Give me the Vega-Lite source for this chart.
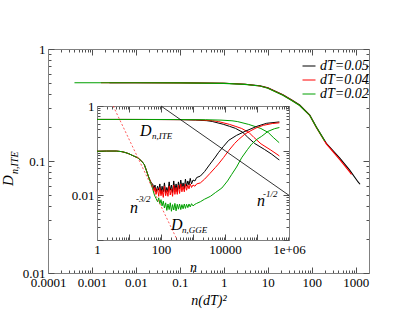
{
"$schema": "https://vega.github.io/schema/vega-lite/v6.json",
"width": 321, "height": 224,
"autosize": {"type": "none"},
"padding": {"left": 48, "top": 49, "right": 46, "bottom": 48},
"background": "white",
"config": {
  "view": {"stroke": null},
  "font": "Liberation Serif",
  "axis": {"domainColor": "#808080", "tickColor": "#505050", "labelFont": "Liberation Serif", "labelColor": "#000000", "labelFontSize": 13, "titleFont": "Liberation Serif", "titleFontStyle": "italic", "titleFontWeight": "normal", "titleColor": "#000000", "grid": false, "labelOverlap": false, "labelFlush": false, "labelBound": false, "tickWidth": 1, "domainWidth": 1},
  "text": {"font": "Liberation Serif", "fontStyle": "italic", "color": "#000000"}
},
"datasets": {
  "main": [
    {"s":"dT=0.05","x":0.0025,"D":0.5},{"s":"dT=0.05","x":0.01,"D":0.5},{"s":"dT=0.05","x":0.1,"D":0.499},{"s":"dT=0.05","x":1,"D":0.495},{"s":"dT=0.05","x":3,"D":0.485},{"s":"dT=0.05","x":6.6,"D":0.47},{"s":"dT=0.05","x":10,"D":0.45},{"s":"dT=0.05","x":22,"D":0.39},{"s":"dT=0.05","x":35,"D":0.35},{"s":"dT=0.05","x":53,"D":0.316},{"s":"dT=0.05","x":90,"D":0.257},{"s":"dT=0.05","x":128,"D":0.2},{"s":"dT=0.05","x":214,"D":0.144},{"s":"dT=0.05","x":433,"D":0.106},{"s":"dT=0.05","x":727,"D":0.083},{"s":"dT=0.05","x":1130,"D":0.065},{"s":"dT=0.05","x":1250,"D":0.062},
    {"s":"dT=0.04","x":0.0016,"D":0.5},{"s":"dT=0.04","x":0.01,"D":0.5},{"s":"dT=0.04","x":0.1,"D":0.498},{"s":"dT=0.04","x":1,"D":0.494},{"s":"dT=0.04","x":3,"D":0.484},{"s":"dT=0.04","x":6.6,"D":0.468},{"s":"dT=0.04","x":10,"D":0.448},{"s":"dT=0.04","x":22,"D":0.388},{"s":"dT=0.04","x":35,"D":0.348},{"s":"dT=0.04","x":53,"D":0.314},{"s":"dT=0.04","x":90,"D":0.255},{"s":"dT=0.04","x":128,"D":0.198},{"s":"dT=0.04","x":214,"D":0.142},{"s":"dT=0.04","x":433,"D":0.103},{"s":"dT=0.04","x":727,"D":0.08},{"s":"dT=0.04","x":800,"D":0.076},
    {"s":"dT=0.02","x":0.0004,"D":0.5},{"s":"dT=0.02","x":0.001,"D":0.5},{"s":"dT=0.02","x":0.01,"D":0.5},{"s":"dT=0.02","x":0.1,"D":0.498},{"s":"dT=0.02","x":1,"D":0.493},{"s":"dT=0.02","x":3,"D":0.483},{"s":"dT=0.02","x":6.6,"D":0.467},{"s":"dT=0.02","x":10,"D":0.447},{"s":"dT=0.02","x":22,"D":0.387},{"s":"dT=0.02","x":35,"D":0.347},{"s":"dT=0.02","x":53,"D":0.313},{"s":"dT=0.02","x":90,"D":0.255},{"s":"dT=0.02","x":128,"D":0.199},{"s":"dT=0.02","x":197,"D":0.151}
  ],
  "inset": [
    {"s":"dT=0.05","k":"ITE","n":1,"D":0.5},{"s":"dT=0.05","k":"ITE","n":4,"D":0.5},{"s":"dT=0.05","k":"ITE","n":40,"D":0.499},{"s":"dT=0.05","k":"ITE","n":400,"D":0.495},{"s":"dT=0.05","k":"ITE","n":1200,"D":0.485},{"s":"dT=0.05","k":"ITE","n":2640,"D":0.47},{"s":"dT=0.05","k":"ITE","n":4000,"D":0.45},{"s":"dT=0.05","k":"ITE","n":8800,"D":0.39},{"s":"dT=0.05","k":"ITE","n":14000,"D":0.35},{"s":"dT=0.05","k":"ITE","n":21200,"D":0.316},{"s":"dT=0.05","k":"ITE","n":36000,"D":0.257},{"s":"dT=0.05","k":"ITE","n":51200,"D":0.2},{"s":"dT=0.05","k":"ITE","n":85600,"D":0.144},{"s":"dT=0.05","k":"ITE","n":173200,"D":0.106},{"s":"dT=0.05","k":"ITE","n":290800,"D":0.083},{"s":"dT=0.05","k":"ITE","n":452000,"D":0.065},{"s":"dT=0.05","k":"ITE","n":500000,"D":0.062},
    {"s":"dT=0.04","k":"ITE","n":1,"D":0.5},{"s":"dT=0.04","k":"ITE","n":6.25,"D":0.5},{"s":"dT=0.04","k":"ITE","n":62.5,"D":0.498},{"s":"dT=0.04","k":"ITE","n":625,"D":0.494},{"s":"dT=0.04","k":"ITE","n":1875,"D":0.484},{"s":"dT=0.04","k":"ITE","n":4125,"D":0.468},{"s":"dT=0.04","k":"ITE","n":6250,"D":0.448},{"s":"dT=0.04","k":"ITE","n":13750,"D":0.388},{"s":"dT=0.04","k":"ITE","n":21875,"D":0.348},{"s":"dT=0.04","k":"ITE","n":33125,"D":0.314},{"s":"dT=0.04","k":"ITE","n":56250,"D":0.255},{"s":"dT=0.04","k":"ITE","n":80000,"D":0.198},{"s":"dT=0.04","k":"ITE","n":133750,"D":0.142},{"s":"dT=0.04","k":"ITE","n":270625,"D":0.103},{"s":"dT=0.04","k":"ITE","n":454375,"D":0.08},{"s":"dT=0.04","k":"ITE","n":500000,"D":0.076},
    {"s":"dT=0.02","k":"ITE","n":1,"D":0.5},{"s":"dT=0.02","k":"ITE","n":25,"D":0.5},{"s":"dT=0.02","k":"ITE","n":250,"D":0.498},{"s":"dT=0.02","k":"ITE","n":2500,"D":0.493},{"s":"dT=0.02","k":"ITE","n":7500,"D":0.483},{"s":"dT=0.02","k":"ITE","n":16500,"D":0.467},{"s":"dT=0.02","k":"ITE","n":25000,"D":0.447},{"s":"dT=0.02","k":"ITE","n":55000,"D":0.387},{"s":"dT=0.02","k":"ITE","n":87500,"D":0.347},{"s":"dT=0.02","k":"ITE","n":132500,"D":0.313},{"s":"dT=0.02","k":"ITE","n":225000,"D":0.255},{"s":"dT=0.02","k":"ITE","n":320000,"D":0.199},{"s":"dT=0.02","k":"ITE","n":492500,"D":0.151},
    {"s":"dT=0.05","k":"GGE","n":1,"D":0.097},{"s":"dT=0.05","k":"GGE","n":2,"D":0.098},{"s":"dT=0.05","k":"GGE","n":4,"D":0.098},{"s":"dT=0.05","k":"GGE","n":6,"D":0.095},{"s":"dT=0.05","k":"GGE","n":8,"D":0.09},{"s":"dT=0.05","k":"GGE","n":10,"D":0.085},{"s":"dT=0.05","k":"GGE","n":14,"D":0.076},{"s":"dT=0.05","k":"GGE","n":19,"D":0.069},{"s":"dT=0.05","k":"GGE","n":25,"D":0.058},{"s":"dT=0.05","k":"GGE","n":30,"D":0.049},{"s":"dT=0.05","k":"GGE","n":35,"D":0.036},{"s":"dT=0.05","k":"GGE","n":40,"D":0.027},{"s":"dT=0.05","k":"GGE","n":45,"D":0.022},{"s":"dT=0.05","k":"GGE","n":50,"D":0.019},
    {"s":"dT=0.05","k":"GGE","n":55,"D":0.018},{"s":"dT=0.05","k":"GGE","n":60,"D":0.014},{"s":"dT=0.05","k":"GGE","n":65,"D":0.017},{"s":"dT=0.05","k":"GGE","n":70,"D":0.012},{"s":"dT=0.05","k":"GGE","n":78,"D":0.016},{"s":"dT=0.05","k":"GGE","n":85,"D":0.013},{"s":"dT=0.05","k":"GGE","n":92,"D":0.018},{"s":"dT=0.05","k":"GGE","n":100,"D":0.011},{"s":"dT=0.05","k":"GGE","n":108,"D":0.016},{"s":"dT=0.05","k":"GGE","n":118,"D":0.012},{"s":"dT=0.05","k":"GGE","n":128,"D":0.019},{"s":"dT=0.05","k":"GGE","n":140,"D":0.0115},{"s":"dT=0.05","k":"GGE","n":152,"D":0.015},{"s":"dT=0.05","k":"GGE","n":165,"D":0.012},{"s":"dT=0.05","k":"GGE","n":180,"D":0.02},{"s":"dT=0.05","k":"GGE","n":195,"D":0.013},{"s":"dT=0.05","k":"GGE","n":212,"D":0.017},{"s":"dT=0.05","k":"GGE","n":230,"D":0.0115},{"s":"dT=0.05","k":"GGE","n":250,"D":0.021},{"s":"dT=0.05","k":"GGE","n":272,"D":0.013},{"s":"dT=0.05","k":"GGE","n":296,"D":0.018},{"s":"dT=0.05","k":"GGE","n":322,"D":0.012},{"s":"dT=0.05","k":"GGE","n":350,"D":0.02},{"s":"dT=0.05","k":"GGE","n":380,"D":0.014},{"s":"dT=0.05","k":"GGE","n":415,"D":0.022},{"s":"dT=0.05","k":"GGE","n":450,"D":0.015},{"s":"dT=0.05","k":"GGE","n":490,"D":0.019},{"s":"dT=0.05","k":"GGE","n":535,"D":0.014},{"s":"dT=0.05","k":"GGE","n":580,"D":0.023},{"s":"dT=0.05","k":"GGE","n":630,"D":0.016},{"s":"dT=0.05","k":"GGE","n":690,"D":0.021},{"s":"dT=0.05","k":"GGE","n":750,"D":0.017},{"s":"dT=0.05","k":"GGE","n":820,"D":0.024},{"s":"dT=0.05","k":"GGE","n":900,"D":0.018},{"s":"dT=0.05","k":"GGE","n":1000,"D":0.022},{"s":"dT=0.05","k":"GGE","n":1150,"D":0.021},{"s":"dT=0.05","k":"GGE","n":1300,"D":0.025},{"s":"dT=0.05","k":"GGE","n":1700,"D":0.027},{"s":"dT=0.05","k":"GGE","n":2300,"D":0.034},{"s":"dT=0.05","k":"GGE","n":3400,"D":0.05},{"s":"dT=0.05","k":"GGE","n":5000,"D":0.072},{"s":"dT=0.05","k":"GGE","n":6200,"D":0.09},{"s":"dT=0.05","k":"GGE","n":9000,"D":0.125},{"s":"dT=0.05","k":"GGE","n":13000,"D":0.17},{"s":"dT=0.05","k":"GGE","n":23000,"D":0.22},{"s":"dT=0.05","k":"GGE","n":42000,"D":0.27},{"s":"dT=0.05","k":"GGE","n":98000,"D":0.35},{"s":"dT=0.05","k":"GGE","n":200000,"D":0.41},{"s":"dT=0.05","k":"GGE","n":500000,"D":0.44},
    {"s":"dT=0.04","k":"GGE","n":1,"D":0.097},{"s":"dT=0.04","k":"GGE","n":2,"D":0.098},{"s":"dT=0.04","k":"GGE","n":4,"D":0.098},{"s":"dT=0.04","k":"GGE","n":6,"D":0.095},{"s":"dT=0.04","k":"GGE","n":8,"D":0.09},{"s":"dT=0.04","k":"GGE","n":10,"D":0.085},{"s":"dT=0.04","k":"GGE","n":14,"D":0.076},{"s":"dT=0.04","k":"GGE","n":19,"D":0.069},{"s":"dT=0.04","k":"GGE","n":25,"D":0.058},{"s":"dT=0.04","k":"GGE","n":30,"D":0.049},{"s":"dT=0.04","k":"GGE","n":35,"D":0.036},{"s":"dT=0.04","k":"GGE","n":40,"D":0.027},{"s":"dT=0.04","k":"GGE","n":45,"D":0.022},{"s":"dT=0.04","k":"GGE","n":50,"D":0.018},
    {"s":"dT=0.04","k":"GGE","n":55,"D":0.016},{"s":"dT=0.04","k":"GGE","n":60,"D":0.012},{"s":"dT=0.04","k":"GGE","n":65,"D":0.015},{"s":"dT=0.04","k":"GGE","n":70,"D":0.0105},{"s":"dT=0.04","k":"GGE","n":78,"D":0.014},{"s":"dT=0.04","k":"GGE","n":85,"D":0.0095},{"s":"dT=0.04","k":"GGE","n":92,"D":0.015},{"s":"dT=0.04","k":"GGE","n":100,"D":0.0098},{"s":"dT=0.04","k":"GGE","n":108,"D":0.013},{"s":"dT=0.04","k":"GGE","n":118,"D":0.009},{"s":"dT=0.04","k":"GGE","n":128,"D":0.016},{"s":"dT=0.04","k":"GGE","n":140,"D":0.0098},{"s":"dT=0.04","k":"GGE","n":152,"D":0.013},{"s":"dT=0.04","k":"GGE","n":165,"D":0.0095},{"s":"dT=0.04","k":"GGE","n":180,"D":0.016},{"s":"dT=0.04","k":"GGE","n":195,"D":0.0102},{"s":"dT=0.04","k":"GGE","n":212,"D":0.014},{"s":"dT=0.04","k":"GGE","n":230,"D":0.0095},{"s":"dT=0.04","k":"GGE","n":250,"D":0.017},{"s":"dT=0.04","k":"GGE","n":272,"D":0.0105},{"s":"dT=0.04","k":"GGE","n":296,"D":0.015},{"s":"dT=0.04","k":"GGE","n":322,"D":0.0105},{"s":"dT=0.04","k":"GGE","n":350,"D":0.017},{"s":"dT=0.04","k":"GGE","n":380,"D":0.011},{"s":"dT=0.04","k":"GGE","n":415,"D":0.018},{"s":"dT=0.04","k":"GGE","n":450,"D":0.012},{"s":"dT=0.04","k":"GGE","n":490,"D":0.016},{"s":"dT=0.04","k":"GGE","n":535,"D":0.012},{"s":"dT=0.04","k":"GGE","n":580,"D":0.018},{"s":"dT=0.04","k":"GGE","n":630,"D":0.013},{"s":"dT=0.04","k":"GGE","n":690,"D":0.017},{"s":"dT=0.04","k":"GGE","n":750,"D":0.014},{"s":"dT=0.04","k":"GGE","n":820,"D":0.018},{"s":"dT=0.04","k":"GGE","n":900,"D":0.015},{"s":"dT=0.04","k":"GGE","n":1000,"D":0.017},{"s":"dT=0.04","k":"GGE","n":1150,"D":0.016},{"s":"dT=0.04","k":"GGE","n":1300,"D":0.018},{"s":"dT=0.04","k":"GGE","n":1700,"D":0.019},{"s":"dT=0.04","k":"GGE","n":2300,"D":0.023},{"s":"dT=0.04","k":"GGE","n":3400,"D":0.031},{"s":"dT=0.04","k":"GGE","n":5000,"D":0.042},{"s":"dT=0.04","k":"GGE","n":6200,"D":0.05},{"s":"dT=0.04","k":"GGE","n":9000,"D":0.07},{"s":"dT=0.04","k":"GGE","n":13000,"D":0.1},{"s":"dT=0.04","k":"GGE","n":20000,"D":0.145},{"s":"dT=0.04","k":"GGE","n":26000,"D":0.175},{"s":"dT=0.04","k":"GGE","n":42000,"D":0.235},{"s":"dT=0.04","k":"GGE","n":64000,"D":0.28},{"s":"dT=0.04","k":"GGE","n":100000,"D":0.33},{"s":"dT=0.04","k":"GGE","n":160000,"D":0.37},{"s":"dT=0.04","k":"GGE","n":300000,"D":0.405},{"s":"dT=0.04","k":"GGE","n":500000,"D":0.42},
    {"s":"dT=0.02","k":"GGE","n":1,"D":0.097},{"s":"dT=0.02","k":"GGE","n":2,"D":0.098},{"s":"dT=0.02","k":"GGE","n":4,"D":0.098},{"s":"dT=0.02","k":"GGE","n":6,"D":0.095},{"s":"dT=0.02","k":"GGE","n":8,"D":0.09},{"s":"dT=0.02","k":"GGE","n":10,"D":0.085},{"s":"dT=0.02","k":"GGE","n":14,"D":0.076},{"s":"dT=0.02","k":"GGE","n":19,"D":0.069},{"s":"dT=0.02","k":"GGE","n":25,"D":0.058},{"s":"dT=0.02","k":"GGE","n":30,"D":0.049},{"s":"dT=0.02","k":"GGE","n":35,"D":0.036},{"s":"dT=0.02","k":"GGE","n":40,"D":0.027},{"s":"dT=0.02","k":"GGE","n":45,"D":0.021},{"s":"dT=0.02","k":"GGE","n":50,"D":0.017},
    {"s":"dT=0.02","k":"GGE","n":55,"D":0.014},{"s":"dT=0.02","k":"GGE","n":60,"D":0.011},{"s":"dT=0.02","k":"GGE","n":65,"D":0.0095},{"s":"dT=0.02","k":"GGE","n":70,"D":0.0085},{"s":"dT=0.02","k":"GGE","n":78,"D":0.0072},{"s":"dT=0.02","k":"GGE","n":85,"D":0.0088},{"s":"dT=0.02","k":"GGE","n":92,"D":0.0065},{"s":"dT=0.02","k":"GGE","n":100,"D":0.008},{"s":"dT=0.02","k":"GGE","n":108,"D":0.0058},{"s":"dT=0.02","k":"GGE","n":118,"D":0.0074},{"s":"dT=0.02","k":"GGE","n":128,"D":0.0052},{"s":"dT=0.02","k":"GGE","n":140,"D":0.0068},{"s":"dT=0.02","k":"GGE","n":152,"D":0.0046},{"s":"dT=0.02","k":"GGE","n":165,"D":0.0064},{"s":"dT=0.02","k":"GGE","n":180,"D":0.0048},{"s":"dT=0.02","k":"GGE","n":195,"D":0.0068},{"s":"dT=0.02","k":"GGE","n":212,"D":0.0044},{"s":"dT=0.02","k":"GGE","n":230,"D":0.0062},{"s":"dT=0.02","k":"GGE","n":250,"D":0.0047},{"s":"dT=0.02","k":"GGE","n":272,"D":0.0066},{"s":"dT=0.02","k":"GGE","n":296,"D":0.0045},{"s":"dT=0.02","k":"GGE","n":322,"D":0.0063},{"s":"dT=0.02","k":"GGE","n":350,"D":0.0049},{"s":"dT=0.02","k":"GGE","n":380,"D":0.0064},{"s":"dT=0.02","k":"GGE","n":415,"D":0.0048},{"s":"dT=0.02","k":"GGE","n":450,"D":0.0062},{"s":"dT=0.02","k":"GGE","n":490,"D":0.005},{"s":"dT=0.02","k":"GGE","n":535,"D":0.0064},{"s":"dT=0.02","k":"GGE","n":580,"D":0.0051},{"s":"dT=0.02","k":"GGE","n":630,"D":0.0063},{"s":"dT=0.02","k":"GGE","n":690,"D":0.0053},{"s":"dT=0.02","k":"GGE","n":750,"D":0.0064},{"s":"dT=0.02","k":"GGE","n":820,"D":0.0055},{"s":"dT=0.02","k":"GGE","n":900,"D":0.0065},{"s":"dT=0.02","k":"GGE","n":1000,"D":0.0058},{"s":"dT=0.02","k":"GGE","n":1150,"D":0.0063},{"s":"dT=0.02","k":"GGE","n":1300,"D":0.0066},{"s":"dT=0.02","k":"GGE","n":1700,"D":0.0072},{"s":"dT=0.02","k":"GGE","n":2300,"D":0.0082},{"s":"dT=0.02","k":"GGE","n":3500,"D":0.0095},{"s":"dT=0.02","k":"GGE","n":5000,"D":0.0115},{"s":"dT=0.02","k":"GGE","n":8000,"D":0.0146},{"s":"dT=0.02","k":"GGE","n":12000,"D":0.021},{"s":"dT=0.02","k":"GGE","n":16000,"D":0.029},{"s":"dT=0.02","k":"GGE","n":23000,"D":0.043},{"s":"dT=0.02","k":"GGE","n":33000,"D":0.069},{"s":"dT=0.02","k":"GGE","n":50000,"D":0.105},{"s":"dT=0.02","k":"GGE","n":68000,"D":0.14},{"s":"dT=0.02","k":"GGE","n":100000,"D":0.18},{"s":"dT=0.02","k":"GGE","n":140000,"D":0.21},{"s":"dT=0.02","k":"GGE","n":220000,"D":0.27},{"s":"dT=0.02","k":"GGE","n":350000,"D":0.31},{"s":"dT=0.02","k":"GGE","n":500000,"D":0.33}
  ],
  "refs": [
    {"r":"half","n":100,"D":1},{"r":"half","n":1000000,"D":0.01},
    {"r":"threehalf","n":3.2,"D":1},{"r":"threehalf","n":320,"D":0.001}
  ],
  "insetBig": [{"t":"D","n":22,"D":0.21},{"t":"D","n":205,"D":0.00167},{"t":"n","n":10.7,"D":0.0041},{"t":"n","n":100000,"D":0.0058}],
  "insetSmall": [{"t":"n,ITE","n":52,"D":0.18},{"t":"n,GGE","n":455,"D":0.00144},{"t":"-3/2","n":16.5,"D":0.0072},{"t":"-1/2","n":155000,"D":0.0093}],
  "ytitleBig": [{"t":"D","x":0.000016,"D":0.0598}],
  "ytitleSmall": [{"t":"n,ITE","x":0.0000209,"D":0.0766}]
},
"layer": [
  {
    "layer": [
      {
        "data": {"name": "main"},
        "mark": {"type": "line", "strokeWidth": 1.1},
        "encoding": {
          "x": {"field": "x", "type": "quantitative", "scale": {"type": "log", "domain": [0.0001, 2000], "nice": false},
                "axis": {"orient": "bottom", "title": "n(dT)²", "titleFontSize": 14, "titlePadding": 1, "labelPadding": 9,
                         "values": [0.0001,0.0002,0.0003,0.0004,0.0005,0.0006,0.0007,0.0008,0.0009,0.001,0.002,0.003,0.004,0.005,0.006,0.007,0.008,0.009,0.01,0.02,0.03,0.04,0.05,0.06,0.07,0.08,0.09,0.1,0.2,0.3,0.4,0.5,0.6,0.7,0.8,0.9,1,2,3,4,5,6,7,8,9,10,20,30,40,50,60,70,80,90,100,200,300,400,500,600,700,800,900,1000,2000],
                         "labelExpr": "indexof([0.0001,0.001,0.01,0.1,1,10,100,1000], datum.value) >= 0 ? format(datum.value, '~g') : ''",
                         "tickSize": {"condition": {"test": "indexof([0.0001,0.001,0.01,0.1,1,10,100,1000], datum.value) >= 0", "value": -6}, "value": -3}}},
          "y": {"field": "D", "type": "quantitative", "scale": {"type": "log", "domain": [0.01, 1], "nice": false},
                "axis": {"orient": "left", "title": null, "labelPadding": 9,
                         "values": [0.01,0.02,0.03,0.04,0.05,0.06,0.07,0.08,0.09,0.1,0.2,0.3,0.4,0.5,0.6,0.7,0.8,0.9,1],
                         "labelExpr": "indexof([0.01,0.1,1], datum.value) >= 0 ? format(datum.value, '~g') : ''",
                         "tickSize": {"condition": {"test": "indexof([0.01,0.1,1], datum.value) >= 0", "value": -6}, "value": -3}}},
          "color": {"field": "s", "type": "nominal", "sort": null,
                    "scale": {"domain": ["dT=0.05","dT=0.04","dT=0.02"], "range": ["#000000","#ff0000","#00a000"]},
                    "legend": {"orient": "none", "legendX": 254, "legendY": 10, "title": null, "labelFont": "Liberation Serif", "labelFontStyle": "italic", "labelFontSize": 14, "symbolType": "stroke", "symbolSize": 169, "symbolStrokeWidth": 1, "rowPadding": 0, "padding": 0, "labelOffset": 4}}
        }
      },
      {
        "data": {"name": "ytitleBig"},
        "mark": {"type": "text", "angle": 270, "align": "left", "baseline": "alphabetic", "fontSize": 15},
        "encoding": {
          "x": {"field": "x", "type": "quantitative", "scale": {"type": "log", "domain": [0.0001, 2000], "nice": false}, "axis": null},
          "y": {"field": "D", "type": "quantitative", "scale": {"type": "log", "domain": [0.01, 1], "nice": false}, "axis": null},
          "text": {"field": "t"}
        }
      },
      {
        "data": {"name": "ytitleSmall"},
        "mark": {"type": "text", "angle": 270, "align": "left", "baseline": "alphabetic", "fontSize": 10},
        "encoding": {
          "x": {"field": "x", "type": "quantitative", "scale": {"type": "log", "domain": [0.0001, 2000], "nice": false},
                "axis": {"orient": "top", "title": null, "labels": false,
                         "values": [0.0001,0.0002,0.0003,0.0004,0.0005,0.0006,0.0007,0.0008,0.0009,0.001,0.002,0.003,0.004,0.005,0.006,0.007,0.008,0.009,0.01,0.02,0.03,0.04,0.05,0.06,0.07,0.08,0.09,0.1,0.2,0.3,0.4,0.5,0.6,0.7,0.8,0.9,1,2,3,4,5,6,7,8,9,10,20,30,40,50,60,70,80,90,100,200,300,400,500,600,700,800,900,1000,2000],
                         "tickSize": {"condition": {"test": "indexof([0.0001,0.001,0.01,0.1,1,10,100,1000], datum.value) >= 0", "value": -6}, "value": -3}}},
          "y": {"field": "D", "type": "quantitative", "scale": {"type": "log", "domain": [0.01, 1], "nice": false},
                "axis": {"orient": "right", "title": null, "labels": false,
                         "values": [0.01,0.02,0.03,0.04,0.05,0.06,0.07,0.08,0.09,0.1,0.2,0.3,0.4,0.5,0.6,0.7,0.8,0.9,1],
                         "tickSize": {"condition": {"test": "indexof([0.01,0.1,1], datum.value) >= 0", "value": -6}, "value": -3}}},
          "text": {"field": "t"}
        }
      }
    ],
    "resolve": {"axis": {"x": "independent", "y": "independent"}}
  },
  {
    "layer": [
      {
        "data": {"name": "inset"},
        "mark": {"type": "line", "strokeWidth": 1},
        "encoding": {
          "x": {"field": "n", "type": "quantitative", "scale": {"type": "log", "domain": [1, 1000000], "range": [49, 241], "nice": false},
                "axis": {"orient": "bottom", "offset": -33, "title": "n", "titleFontSize": 14, "titlePadding": 1, "labelPadding": 9,
                         "values": [1,2,3,4,5,6,7,8,9,10,20,30,40,50,60,70,80,90,100,200,300,400,500,600,700,800,900,1000,2000,3000,4000,5000,6000,7000,8000,9000,10000,20000,30000,40000,50000,60000,70000,80000,90000,100000,200000,300000,400000,500000,600000,700000,800000,900000,1000000],
                         "labelExpr": "datum.value == 1 ? '1' : datum.value == 100 ? '100' : datum.value == 10000 ? '10000' : datum.value == 1000000 ? '1e+06' : ''",
                         "tickSize": {"condition": {"test": "indexof([1,10,100,1000,10000,100000,1000000], datum.value) >= 0", "value": -6}, "value": -3}}},
          "y": {"field": "D", "type": "quantitative", "scale": {"type": "log", "domain": [0.001, 1], "range": [191, 57], "nice": false},
                "axis": {"orient": "left", "offset": -49, "title": null, "labelPadding": 9,
                         "values": [0.001,0.002,0.003,0.004,0.005,0.006,0.007,0.008,0.009,0.01,0.02,0.03,0.04,0.05,0.06,0.07,0.08,0.09,0.1,0.2,0.3,0.4,0.5,0.6,0.7,0.8,0.9,1],
                         "labelExpr": "datum.value == 1 ? '1' : datum.value == 0.01 ? '0.01' : ''",
                         "tickSize": {"condition": {"test": "indexof([0.001,0.01,0.1,1], datum.value) >= 0", "value": -6}, "value": -3}}},
          "color": {"field": "s", "type": "nominal", "sort": null,
                    "scale": {"domain": ["dT=0.05","dT=0.04","dT=0.02"], "range": ["#000000","#ff0000","#00a000"]}, "legend": null},
          "detail": {"field": "k"}
        }
      },
      {
        "data": {"name": "refs"},
        "transform": [{"filter": "datum.r == 'half'"}],
        "mark": {"type": "line", "color": "#000000", "strokeWidth": 0.8},
        "encoding": {
          "x": {"field": "n", "type": "quantitative", "scale": {"type": "log", "domain": [1, 1000000], "range": [49, 241], "nice": false}, "axis": null},
          "y": {"field": "D", "type": "quantitative", "scale": {"type": "log", "domain": [0.001, 1], "range": [191, 57], "nice": false}, "axis": null}
        }
      },
      {
        "data": {"name": "refs"},
        "transform": [{"filter": "datum.r == 'threehalf'"}],
        "mark": {"type": "line", "color": "#ff3030", "strokeWidth": 0.8, "strokeDash": [2, 2]},
        "encoding": {
          "x": {"field": "n", "type": "quantitative", "scale": {"type": "log", "domain": [1, 1000000], "range": [49, 241], "nice": false}, "axis": null},
          "y": {"field": "D", "type": "quantitative", "scale": {"type": "log", "domain": [0.001, 1], "range": [191, 57], "nice": false}, "axis": null}
        }
      },
      {
        "data": {"name": "insetBig"},
        "mark": {"type": "text", "align": "left", "baseline": "alphabetic", "fontSize": 16},
        "encoding": {
          "x": {"field": "n", "type": "quantitative", "scale": {"type": "log", "domain": [1, 1000000], "range": [49, 241], "nice": false}, "axis": null},
          "y": {"field": "D", "type": "quantitative", "scale": {"type": "log", "domain": [0.001, 1], "range": [191, 57], "nice": false}, "axis": null},
          "text": {"field": "t"}
        }
      },
      {
        "data": {"name": "insetSmall"},
        "mark": {"type": "text", "align": "left", "baseline": "alphabetic", "fontSize": 9},
        "encoding": {
          "x": {"field": "n", "type": "quantitative", "scale": {"type": "log", "domain": [1, 1000000], "range": [49, 241], "nice": false},
                "axis": {"orient": "top", "offset": -57, "title": null, "labels": false,
                         "values": [1,2,3,4,5,6,7,8,9,10,20,30,40,50,60,70,80,90,100,200,300,400,500,600,700,800,900,1000,2000,3000,4000,5000,6000,7000,8000,9000,10000,20000,30000,40000,50000,60000,70000,80000,90000,100000,200000,300000,400000,500000,600000,700000,800000,900000,1000000],
                         "tickSize": {"condition": {"test": "indexof([1,10,100,1000,10000,100000,1000000], datum.value) >= 0", "value": -6}, "value": -3}}},
          "y": {"field": "D", "type": "quantitative", "scale": {"type": "log", "domain": [0.001, 1], "range": [191, 57], "nice": false},
                "axis": {"orient": "right", "offset": -80, "title": null, "labels": false,
                         "values": [0.001,0.002,0.003,0.004,0.005,0.006,0.007,0.008,0.009,0.01,0.02,0.03,0.04,0.05,0.06,0.07,0.08,0.09,0.1,0.2,0.3,0.4,0.5,0.6,0.7,0.8,0.9,1],
                         "tickSize": {"condition": {"test": "indexof([0.001,0.01,0.1,1], datum.value) >= 0", "value": -6}, "value": -3}}},
          "text": {"field": "t"}
        }
      }
    ],
    "resolve": {"axis": {"x": "independent", "y": "independent"}}
  }
],
"resolve": {"scale": {"x": "independent", "y": "independent", "color": "independent"}, "axis": {"x": "independent", "y": "independent"}, "legend": {"color": "independent"}}
}
